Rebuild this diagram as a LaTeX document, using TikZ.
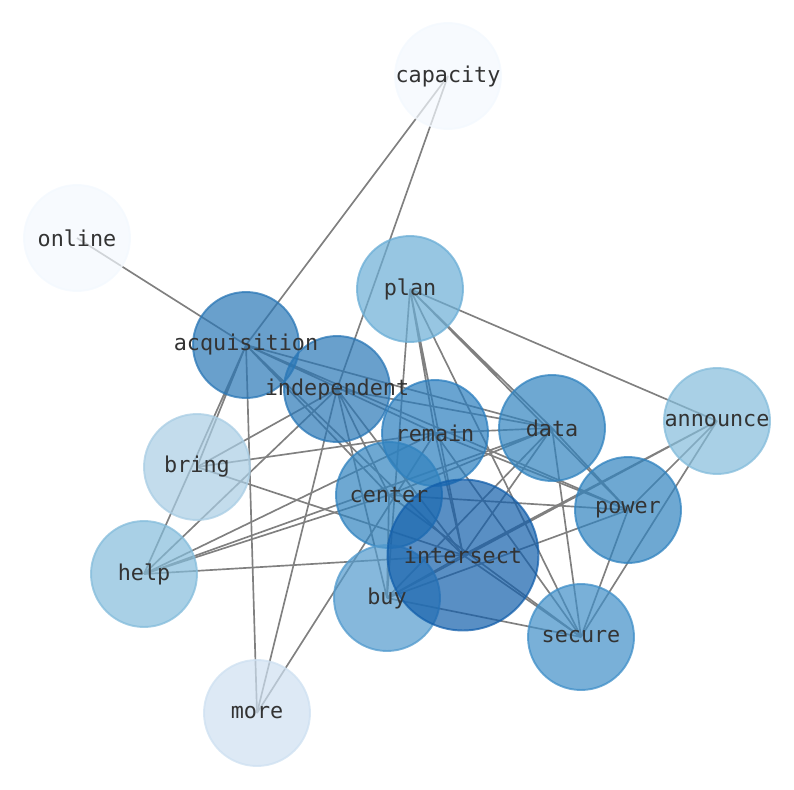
\documentclass[tikz,border=0pt]{standalone}
\usepackage{fontspec}
\setmonofont{DejaVu Sans Mono}
\usetikzlibrary{backgrounds}

\definecolor{cCap}{HTML}{F3F8FE}
\definecolor{cOnl}{HTML}{F3F8FE}
\definecolor{cMor}{HTML}{CEE0F1}
\definecolor{cBri}{HTML}{A9CDE4}
\definecolor{cHel}{HTML}{84BCDB}
\definecolor{cAnn}{HTML}{84BCDB}
\definecolor{cPla}{HTML}{6BAED6}
\definecolor{cBuy}{HTML}{529ACD}
\definecolor{cSec}{HTML}{408FC8}
\definecolor{cDat}{HTML}{3183BF}
\definecolor{cPow}{HTML}{3183BF}
\definecolor{cCen}{HTML}{3183BF}
\definecolor{cRem}{HTML}{2A7DBE}
\definecolor{cInd}{HTML}{2A77B6}
\definecolor{cAcq}{HTML}{2A77B6}
\definecolor{cInt}{HTML}{135FAB}
\definecolor{labelgray}{HTML}{333333}

\tikzset{
  word/.style={circle, inner sep=0pt, minimum size=2.12cm, fill=#1, draw=#1,
    fill opacity=0.7, draw opacity=0.75, line width=1.1pt},
  wordlabel/.style={inner sep=0pt, text=labelgray,
    font=\ttfamily\fontsize{12.4}{14}\selectfont},
  link/.style={draw=gray, line width=0.95pt}
}

\begin{document}
\begin{tikzpicture}[x=0.02cm, y=-0.02cm]
    \useasboundingbox (0,0) rectangle (794,790);

    % Words
    \node[word=cCap] (capacity) at (448,76) {};
    \node[word=cOnl] (online) at (77,238) {};
    \node[word=cPla] (plan) at (410,289) {};
    \node[word=cAcq] (acquisition) at (246,345) {};
    \node[word=cInd] (independent) at (337,389) {};
    \node[word=cRem] (remain) at (435,433) {};
    \node[word=cDat] (data) at (552,428) {};
    \node[word=cAnn] (announce) at (717,421) {};
    \node[word=cBri] (bring) at (197,467) {};
    \node[word=cCen] (center) at (389,495) {};
    \node[word=cPow] (power) at (628,510) {};
    \node[word=cHel] (help) at (144,574) {};
    \node[word=cBuy] (buy) at (387,598) {};
    \node[word=cInt, minimum size=3.02cm] (intersect) at (463,555) {};
    \node[word=cSec] (secure) at (581,637) {};
    \node[word=cMor] (more) at (257,713) {};

    % Labels on top of all circles
    \node[wordlabel] at (capacity) {capacity};
    \node[wordlabel] at (online) {online};
    \node[wordlabel] at (plan) {plan};
    \node[wordlabel] at (acquisition) {acquisition};
    \node[wordlabel] at (independent) {independent};
    \node[wordlabel] at (remain) {remain};
    \node[wordlabel] at (data) {data};
    \node[wordlabel] at (announce) {announce};
    \node[wordlabel] at (bring) {bring};
    \node[wordlabel] at (center) {center};
    \node[wordlabel] at (power) {power};
    \node[wordlabel] at (intersect) {intersect};
    \node[wordlabel] at (help) {help};
    \node[wordlabel] at (buy) {buy};
    \node[wordlabel] at (secure) {secure};
    \node[wordlabel] at (more) {more};

    % Links behind the words
    \begin{scope}[on background layer]
    \draw[link] (capacity.center) -- (acquisition.center)
                (capacity.center) -- (independent.center);
    \draw[link] (online.center) -- (acquisition.center);
    \draw[link] (plan.center) -- (buy.center)
                (plan.center) -- (remain.center)
                (plan.center) -- (intersect.center)
                (plan.center) -- (secure.center)
                (plan.center) -- (data.center)
                (plan.center) -- (power.center)
                (plan.center) -- (announce.center);
    \draw[link] (acquisition.center) -- (bring.center)
                (acquisition.center) -- (help.center)
                (acquisition.center) -- (more.center)
                (acquisition.center) -- (data.center)
                (acquisition.center) -- (remain.center)
                (acquisition.center) -- (center.center)
                (acquisition.center) -- (intersect.center)
                (acquisition.center) -- (power.center);
    \draw[link] (independent.center) -- (bring.center)
                (independent.center) -- (help.center)
                (independent.center) -- (more.center)
                (independent.center) -- (buy.center)
                (independent.center) -- (center.center)
                (independent.center) -- (intersect.center)
                (independent.center) -- (data.center);
    \draw[link] (remain.center) -- (data.center)
                (remain.center) -- (intersect.center)
                (remain.center) -- (power.center)
                (remain.center) -- (bring.center)
                (remain.center) -- (help.center)
                (remain.center) -- (more.center)
                (remain.center) -- (secure.center);
    \draw[link] (data.center) -- (power.center)
                (data.center) -- (intersect.center)
                (data.center) -- (buy.center)
                (data.center) -- (secure.center)
                (data.center) -- (center.center)
                (data.center) -- (help.center);
    \draw[link] (announce.center) -- (intersect.center)
                (announce.center) -- (buy.center)
                (announce.center) -- (secure.center)
                (announce.center) -- (power.center);
    \draw[link] (bring.center) -- (intersect.center);
    \draw[link] (center.center) -- (help.center)
                (center.center) -- (power.center)
                (center.center) -- (secure.center)
                (center.center) -- (buy.center);
    \draw[link] (help.center) -- (intersect.center);
    \draw[link] (buy.center) -- (secure.center)
                (buy.center) -- (power.center)
                (buy.center) -- (intersect.center);
    \draw[link] (secure.center) -- (power.center)
                (secure.center) -- (intersect.center);
    \end{scope}
\end{tikzpicture}
\end{document}
